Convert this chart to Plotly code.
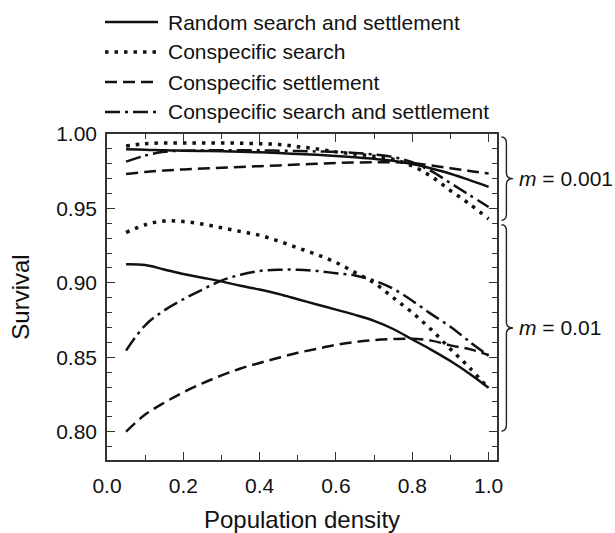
import plotly.graph_objects as go

density = [0.05, 0.10, 0.15, 0.20, 0.25, 0.30, 0.35, 0.40, 0.45, 0.50,
           0.55, 0.60, 0.65, 0.70, 0.75, 0.80, 0.85, 0.90, 0.95, 1.00]

# m = 0.001
random_m001 = [0.9897, 0.9895, 0.9890, 0.9888, 0.9886, 0.9884, 0.9880, 0.9877, 0.9872, 0.9866,
               0.9860, 0.9852, 0.9843, 0.9833, 0.9820, 0.9798, 0.9768, 0.9733, 0.9690, 0.9645]
search_m001 = [0.9920, 0.9935, 0.9940, 0.9940, 0.9940, 0.9940, 0.9938, 0.9935, 0.9930, 0.9915,
               0.9900, 0.9880, 0.9865, 0.9850, 0.9830, 0.9785, 0.9715, 0.9620, 0.9530, 0.9430]
settle_m001 = [0.9732, 0.9745, 0.9755, 0.9762, 0.9768, 0.9774, 0.9779, 0.9784, 0.9789, 0.9795,
               0.9800, 0.9805, 0.9808, 0.9810, 0.9810, 0.9805, 0.9788, 0.9770, 0.9752, 0.9735]
both_m001 = [0.9814, 0.9855, 0.9880, 0.9888, 0.9890, 0.9890, 0.9890, 0.9890, 0.9888, 0.9886,
             0.9883, 0.9880, 0.9873, 0.9862, 0.9845, 0.9810, 0.9750, 0.9670, 0.9590, 0.9510]

# m = 0.01
random_m01 = [0.9125, 0.9120, 0.9090, 0.9060, 0.9035, 0.9010, 0.8980, 0.8955, 0.8925, 0.8890,
              0.8855, 0.8820, 0.8785, 0.8745, 0.8690, 0.8620, 0.8550, 0.8475, 0.8390, 0.8295]
search_m01 = [0.9338, 0.9390, 0.9415, 0.9412, 0.9395, 0.9370, 0.9345, 0.9320, 0.9280, 0.9235,
              0.9190, 0.9137, 0.9070, 0.9000, 0.8900, 0.8800, 0.8685, 0.8555, 0.8430, 0.8290]
settle_m01 = [0.8000, 0.8115, 0.8195, 0.8265, 0.8325, 0.8378, 0.8425, 0.8462, 0.8497, 0.8530,
              0.8557, 0.8583, 0.8603, 0.8615, 0.8622, 0.8624, 0.8612, 0.8580, 0.8555, 0.8515]
both_m01 = [0.8545, 0.8715, 0.8815, 0.8890, 0.8955, 0.9015, 0.9055, 0.9080, 0.9088, 0.9088,
            0.9080, 0.9065, 0.9050, 0.9015, 0.8960, 0.8880, 0.8790, 0.8705, 0.8605, 0.8510]

series_names = ["Random search and settlement", "Conspecific search",
                "Conspecific settlement", "Conspecific search and settlement"]
brace_labels = ["0.001", "0.01"]
brace_spans = [(0.942, 0.998), (0.8004, 0.939)]

X_RANGE = [0, 1.022]
Y_RANGE = [0.781, 1.0]

styles = [
    dict(dash="solid", width=2.5),
    dict(dash="3.5px,6px", width=3.5),
    dict(dash="12px,6px", width=2.5),
    dict(dash="15px,5px,3px,5px", width=2.5),
]
INK = "#111111"

fig = go.Figure()
groups = [(random_m001, random_m01), (search_m001, search_m01),
          (settle_m001, settle_m01), (both_m001, both_m01)]
for i, (a, b) in enumerate(groups):
    for vals in (a, b):
        fig.add_trace(go.Scatter(
            x=density, y=vals, mode="lines", showlegend=False,
            name=series_names[i], line_shape="spline",
            line=dict(color=INK, width=styles[i]["width"], dash=styles[i]["dash"]),
            hoverinfo="skip"))

# manual legend above the plot
plot_h = 533 - 134 - 73
plot_w = 615 - 107 - 118
legend_rows_px = [22, 52, 82, 112]
shapes = []
annotations = []
for i, name in enumerate(series_names):
    yp = (533 - 73 - legend_rows_px[i]) / plot_h
    shapes.append(dict(type="line", xref="paper", yref="paper",
                       x0=(105 - 107) / plot_w, x1=(158 - 107) / plot_w, y0=yp, y1=yp,
                       line=dict(color=INK, width=styles[i]["width"], dash=styles[i]["dash"])))
    annotations.append(dict(text=name, xref="paper", yref="paper",
                            x=(166 - 107) / plot_w, y=yp, xanchor="left", yanchor="middle",
                            showarrow=False, font=dict(size=21, color=INK)))

# braces on the right
def ypaper(v):
    return (v - Y_RANGE[0]) / (Y_RANGE[1] - Y_RANGE[0])

x0 = 1 + 4.4 / plot_w
x1 = 1 + 9.4 / plot_w
x2 = 1 + 16.0 / plot_w
r = 6.0 / plot_h
for (lo, hi), lab in zip(brace_spans, brace_labels):
    yt, yb = ypaper(hi), ypaper(lo)
    ym = (yt + yb) / 2
    path = (f"M {x0},{yt} Q {x1},{yt} {x1},{yt - r} L {x1},{ym + r} "
            f"Q {x1},{ym} {x2},{ym} Q {x1},{ym} {x1},{ym - r} "
            f"L {x1},{yb + r} Q {x1},{yb} {x0},{yb}")
    shapes.append(dict(type="path", xref="paper", yref="paper", path=path,
                       line=dict(color="#222222", width=1.4)))
    annotations.append(dict(text=f"<i>m</i> = {lab}", xref="paper", yref="paper",
                            x=1 + 19.5 / plot_w, y=ym, xanchor="left", yanchor="middle",
                            showarrow=False, font=dict(size=21, color=INK)))

axis_common = dict(
    showline=True, linecolor="#333333", linewidth=1.5, mirror="allticks",
    ticks="inside", ticklen=8, tickwidth=1.3, tickcolor="#333333",
    showgrid=False, zeroline=False, automargin=False,
    tickfont=dict(size=21, color=INK),
)

fig.update_layout(
    width=615, height=533,
    margin=dict(l=107, r=118, t=134, b=73),
    paper_bgcolor="white", plot_bgcolor="white",
    font=dict(family="Arial, Liberation Sans, sans-serif", color=INK),
    shapes=shapes, annotations=annotations,
    xaxis=dict(range=X_RANGE, tickvals=[0, 0.2, 0.4, 0.6, 0.8, 1.0],
               ticktext=["0.0", "0.2", "0.4", "0.6", "0.8", "1.0"],
               minor=dict(dtick=0.1, tick0=0, ticks="inside", ticklen=5, tickwidth=1.3,
                          tickcolor="#333333"),
               title=dict(text="Population density", font=dict(size=24, color=INK), standoff=20),
               ticklabelstandoff=6,
               **axis_common),
    yaxis=dict(range=Y_RANGE, tickvals=[0.80, 0.85, 0.90, 0.95, 1.00],
               ticktext=["0.80", "0.85", "0.90", "0.95", "1.00"],
               minor=dict(dtick=0.01, tick0=0.8, ticks="inside", ticklen=5, tickwidth=1.3,
                          tickcolor="#333333"),
               title=dict(text="Survival", font=dict(size=24, color=INK), standoff=20),
               ticklabelstandoff=4,
               **axis_common),
)

fig.write_html("out.html")
